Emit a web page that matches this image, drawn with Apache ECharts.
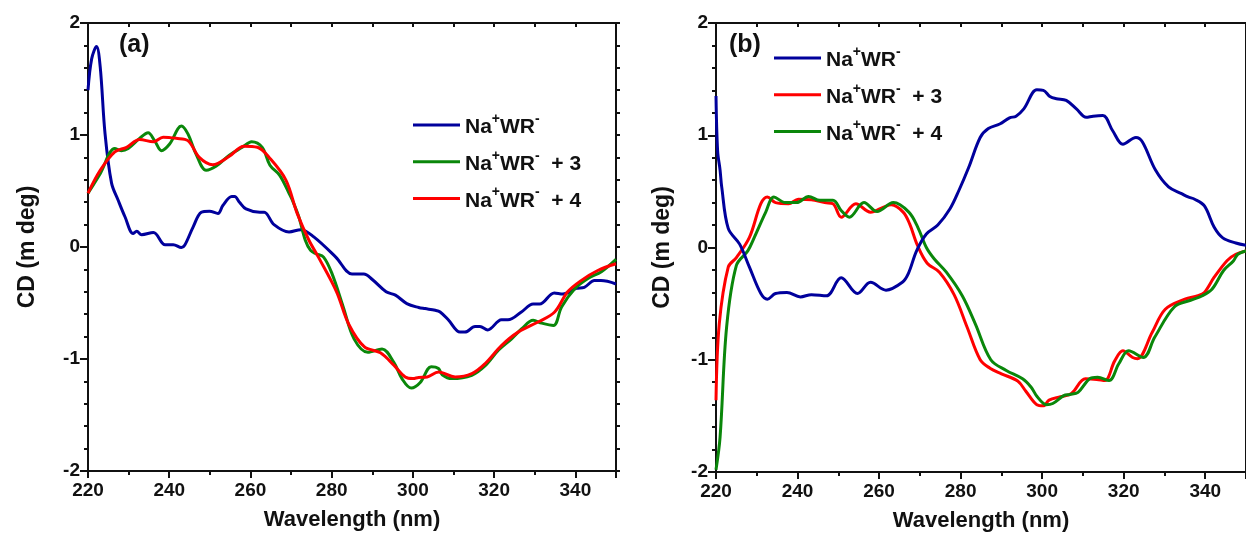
<!DOCTYPE html>
<html>
<head>
<meta charset="utf-8">
<script src="https://cdn.jsdelivr.net/npm/echarts@6/dist/echarts.min.js"></script>
<style>
  html, body { margin: 0; padding: 0; background: #fff; }
  #chart { width: 1246px; height: 537px; }
</style>
</head>
<body>
<div id="chart"></div>
<script>
// CD spectra, [wavelength (nm), CD (m deg)]
// Panel (a)
const aNaWR = [[220,1.40],[220.9,1.68],[222.1,1.79],[223,1.61],[224.2,1.01],[225.8,0.57],[227.4,0.42],[229.1,0.27],[231.1,0.12],[232,0.14],[233.2,0.11],[236.1,0.13],[239,0.02],[241,0.02],[243,-0.005],[243.8,0.015],[245.9,0.18],[247.9,0.31],[249.9,0.32],[252,0.30],[253.2,0.37],[255.4,0.45],[256.1,0.45],[257.3,0.40],[258.9,0.34],[262.3,0.31],[263.4,0.31],[265.8,0.20],[269.5,0.135],[272.4,0.155],[275.6,0.09],[281,-0.09],[285,-0.24],[287.9,-0.24],[290,-0.29],[293.4,-0.40],[295.7,-0.43],[298.5,-0.505],[301.4,-0.54],[303,-0.55],[305.5,-0.565],[306.7,-0.58],[308.7,-0.65],[311.6,-0.76],[312.8,-0.76],[315.3,-0.71],[316.5,-0.71],[318.4,-0.74],[321.8,-0.65],[323.4,-0.65],[326.7,-0.58],[329.6,-0.51],[331.2,-0.51],[334.8,-0.41],[336.9,-0.42],[340.2,-0.37],[342.2,-0.36],[344.7,-0.30],[346.3,-0.30],[350,-0.33]];
const aNaWR3 = [[220,0.48],[223,0.655],[226.6,0.88],[228.2,0.86],[229.9,0.88],[232.7,0.97],[234.8,1.02],[236.4,0.95],[238.1,0.86],[240.1,0.92],[243,1.08],[244.6,1.01],[246.6,0.83],[249.1,0.685],[251.5,0.72],[254.8,0.82],[258,0.89],[260.3,0.94],[262.9,0.89],[264.8,0.73],[267.2,0.64],[269.5,0.48],[270.3,0.42],[271.9,0.27],[273.5,0.06],[274.8,-0.03],[276.1,-0.06],[278,-0.09],[280.1,-0.24],[282.8,-0.53],[285.5,-0.82],[288.9,-0.94],[292.4,-0.91],[295.3,-1.03],[297.3,-1.175],[299.6,-1.26],[301.8,-1.21],[304.5,-1.07],[306.3,-1.085],[307.2,-1.14],[309.6,-1.175],[314.5,-1.145],[317.8,-1.06],[321.1,-0.92],[324.3,-0.82],[326.8,-0.73],[329.6,-0.655],[331.7,-0.68],[334.6,-0.70],[336.6,-0.535],[339.9,-0.37],[343.1,-0.28],[346.4,-0.22],[350,-0.11]];
const aNaWR4 = [[220,0.48],[223,0.685],[226.6,0.85],[229.5,0.89],[232.7,0.96],[236.1,0.94],[238.5,0.98],[241.7,0.97],[244.6,0.95],[247.4,0.80],[250.7,0.735],[254.8,0.81],[258.4,0.90],[261.7,0.89],[264.6,0.80],[268.7,0.60],[271.5,0.30],[274.4,0.06],[276.8,-0.095],[281.2,-0.40],[284.2,-0.69],[288,-0.89],[292,-0.945],[295.3,-1.055],[298.1,-1.16],[300,-1.175],[301.4,-1.165],[303.5,-1.16],[306.3,-1.115],[310.4,-1.16],[314.5,-1.13],[317.8,-1.04],[321.8,-0.88],[325.9,-0.76],[330.8,-0.67],[334.9,-0.58],[338.1,-0.40],[341.4,-0.30],[345.5,-0.21],[350,-0.15]];

// Panel (b)
const bNaWR = [[220,1.35],[220.4,0.86],[221,0.69],[221.4,0.54],[223,0.17],[225.8,0.03],[228.2,-0.175],[231,-0.41],[232.6,-0.46],[234.6,-0.41],[237.4,-0.40],[240.7,-0.44],[243.4,-0.42],[247.1,-0.43],[250.7,-0.27],[254.7,-0.41],[257.9,-0.31],[261.7,-0.38],[265.7,-0.31],[267.2,-0.23],[269.2,-0.03],[271.6,0.12],[274.4,0.20],[277.4,0.345],[279.6,0.51],[282,0.715],[284.8,0.98],[286.8,1.06],[289.6,1.10],[292,1.155],[293.6,1.17],[295.5,1.235],[298.7,1.405],[300.3,1.40],[301.9,1.345],[303.5,1.325],[305.9,1.31],[308.4,1.235],[310.8,1.16],[312.5,1.17],[314.9,1.175],[317.3,1.04],[319.8,0.92],[323,0.98],[324.6,0.94],[327.8,0.69],[331,0.54],[334.2,0.48],[335.8,0.45],[337.4,0.43],[339.8,0.37],[342.2,0.18],[344.3,0.086],[347.5,0.04],[350,0.02]];
const bNaWR3 = [[220,-1.36],[220.8,-0.68],[223,-0.175],[225,-0.09],[228.2,0.09],[231,0.39],[232.6,0.45],[234.6,0.40],[237.8,0.39],[240.2,0.43],[243.4,0.425],[246.7,0.40],[248.7,0.39],[250.7,0.27],[254.3,0.39],[257.9,0.315],[261.1,0.36],[263,0.38],[265.9,0.315],[267.5,0.21],[269.4,0.02],[271.8,-0.14],[274.8,-0.22],[278.4,-0.42],[281.6,-0.71],[284.8,-1.0],[287.2,-1.075],[290,-1.125],[294,-1.19],[296,-1.28],[298.7,-1.40],[300.3,-1.41],[301.7,-1.36],[304.5,-1.33],[307.2,-1.30],[310.6,-1.17],[313.4,-1.175],[315.4,-1.185],[317.8,-1.01],[319.8,-0.92],[322.2,-0.98],[323.4,-0.99],[327,-0.755],[330.2,-0.55],[335,-0.46],[338.2,-0.43],[339.8,-0.40],[342.2,-0.265],[345.4,-0.115],[347.5,-0.06],[350,-0.03]];
const bNaWR4 = [[220,-1.98],[221,-1.69],[222.6,-0.71],[225,-0.16],[227.8,-0.03],[229.4,0.09],[232.2,0.315],[234.2,0.45],[237,0.40],[239.8,0.40],[242.7,0.455],[245.5,0.42],[248.7,0.42],[250.7,0.33],[252.7,0.27],[256.3,0.40],[259.5,0.32],[263.5,0.40],[267.3,0.315],[269.5,0.18],[271.6,0.0],[273.5,-0.10],[276.5,-0.22],[280.4,-0.43],[283.6,-0.68],[287.4,-1.0],[291.2,-1.095],[295.2,-1.17],[297.3,-1.245],[298.8,-1.33],[301,-1.40],[302.6,-1.39],[305.3,-1.32],[306.8,-1.31],[308.8,-1.29],[311.6,-1.17],[313.6,-1.155],[316.4,-1.185],[318.8,-1.036],[321.2,-0.92],[324.8,-0.98],[327.6,-0.80],[332.4,-0.53],[336.4,-0.47],[339.3,-0.43],[341.7,-0.37],[344.5,-0.205],[346.9,-0.12],[348,-0.06],[350,-0.03]];

// Axis ranges and legend texts
const xRange = [220, 350];
const yRange = [-2, 2];
const legendText = {
  a0: '{t|Na}{s|+}{t|WR}{s|-}',
  a3: '{t|Na}{s|+}{t|WR}{s|-}{t|  + 3}',
  a4: '{t|Na}{s|+}{t|WR}{s|-}{t|  + 4}',
  b0: '{t|Na}{s|+}{t|WR}{s|-}',
  b3: '{t|Na}{s|+}{t|WR}{s|-}{t|  + 3}',
  b4: '{t|Na}{s|+}{t|WR}{s|-}{t|  + 4}'
};

const BLUE = '#00009c', GREEN = '#0a870a', RED = '#ff0000';
const SANS = "'Liberation Sans',Arial,sans-serif";
const INK = '#111';
const AXIS_LINE = { onZero: false, lineStyle: { color: INK, width: 2 } };

function bottomX(grid) {
  return {
    type: 'value', gridIndex: grid, position: 'bottom',
    min: xRange[0], max: xRange[1], interval: 20,
    axisLine: { show: true, ...AXIS_LINE },
    axisTick: { show: true, inside: false, length: 7, lineStyle: { color: INK, width: 2 } },
    minorTick: { show: true, splitNumber: 2, length: 4, lineStyle: { color: INK, width: 2 } },
    splitLine: { show: false },
    axisLabel: { show: true, margin: 10, showMaxLabel: false, color: INK, fontFamily: SANS, fontWeight: 'bold', fontSize: 19 },
    name: 'Wavelength (nm)', nameLocation: 'middle', nameGap: 38,
    nameTextStyle: { color: INK, fontFamily: SANS, fontWeight: 'bold', fontSize: 22 }
  };
}
function topX(grid) {
  return {
    type: 'value', gridIndex: grid, position: 'top',
    min: xRange[0], max: xRange[1], interval: 10,
    axisLine: { show: true, ...AXIS_LINE },
    axisTick: { show: true, inside: true, length: 4, lineStyle: { color: INK, width: 2 } },
    splitLine: { show: false }, axisLabel: { show: false }
  };
}
function leftY(grid, gap) {
  return {
    type: 'value', gridIndex: grid, position: 'left',
    min: yRange[0], max: yRange[1], interval: 1,
    axisLine: { show: true, ...AXIS_LINE },
    axisTick: { show: true, inside: false, length: 8, lineStyle: { color: INK, width: 2 } },
    minorTick: { show: true, splitNumber: 5, length: 4, lineStyle: { color: INK, width: 2 } },
    splitLine: { show: false },
    axisLabel: { show: true, margin: 8, color: INK, fontFamily: SANS, fontWeight: 'bold', fontSize: 19 },
    name: 'CD (m deg)', nameLocation: 'middle', nameRotate: 90, nameGap: gap,
    nameTextStyle: { color: INK, fontFamily: SANS, fontWeight: 'bold', fontSize: 23 }
  };
}
function rightY(grid) {
  return {
    type: 'value', gridIndex: grid, position: 'right',
    min: yRange[0], max: yRange[1], interval: 0.2,
    axisLine: { show: true, ...AXIS_LINE },
    axisTick: { show: true, inside: false, length: 4, lineStyle: { color: INK, width: 2 } },
    splitLine: { show: false }, axisLabel: { show: false }
  };
}
function line(name, data, color, xi, yi, z) {
  return {
    type: 'line', name, data, xAxisIndex: xi, yAxisIndex: yi, z,
    showSymbol: false, symbol: 'none', smooth: 0.35,
    lineStyle: { color, width: 3 }, itemStyle: { color },
    emphasis: { disabled: true }
  };
}
const legendRich = {
  t: { color: INK, fontFamily: SANS, fontWeight: 'bold', fontSize: 21, lineHeight: 26, verticalAlign: 'bottom' },
  s: { color: INK, fontFamily: SANS, fontWeight: 'bold', fontSize: 14, lineHeight: 13, verticalAlign: 'top' }
};
function legend(names, left, top) {
  return {
    data: names, left, top, padding: 0, orient: 'vertical', itemGap: 10.7,
    itemWidth: 47, itemHeight: 3, icon: 'rect',
    formatter: n => legendText[n],
    textStyle: { rich: legendRich }
  };
}

const chart = echarts.init(document.getElementById('chart'), null, { renderer: 'canvas' });
chart.setOption({
  animation: false,
  backgroundColor: '#fff',
  grid: [
    { left: 88, top: 23, width: 528, height: 448 },
    { left: 716, top: 23, width: 539.5, height: 449 }
  ],
  xAxis: [bottomX(0), topX(0), bottomX(1), topX(1)],
  yAxis: [leftY(0, 49), rightY(0), leftY(1, 42), rightY(1)],
  legend: [
    legend(['a0', 'a3', 'a4'], 413, 112),
    legend(['b0', 'b3', 'b4'], 774, 45)
  ],
  series: [
    line('a0', aNaWR, BLUE, 0, 0, 2),
    line('a3', aNaWR3, GREEN, 0, 0, 3),
    line('a4', aNaWR4, RED, 0, 0, 4),
    line('b0', bNaWR, BLUE, 2, 2, 4),
    line('b3', bNaWR3, RED, 2, 2, 2),
    line('b4', bNaWR4, GREEN, 2, 2, 3)
  ],
  graphic: [
    { type: 'text', left: 119, top: 33, style: { text: '(a)', fill: INK, font: "bold 25px 'Liberation Sans', Arial, sans-serif" } },
    { type: 'text', left: 729, top: 33, style: { text: '(b)', fill: INK, font: "bold 25px 'Liberation Sans', Arial, sans-serif" } }
  ]
});
</script>
</body>
</html>
